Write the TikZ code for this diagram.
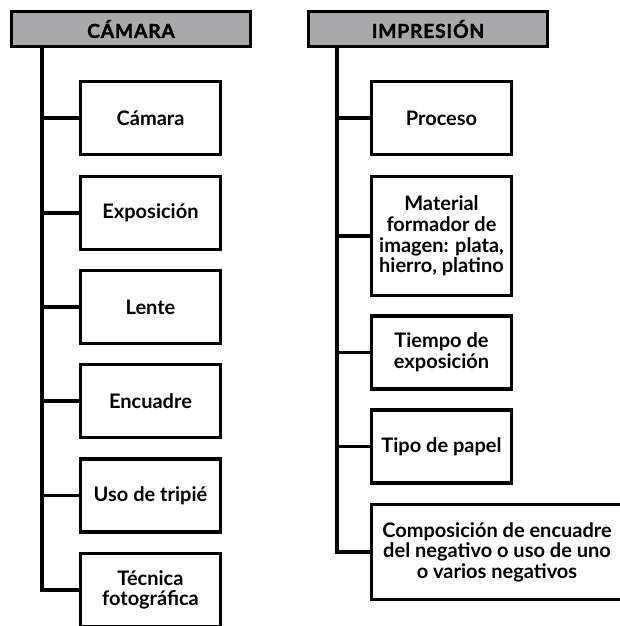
\documentclass[tikz,border=0pt]{standalone}
\usepackage{fontspec}
\setmainfont{Lato}
\newfontfamily\headfont[LetterSpace=4, BoldFeatures={FakeBold=1.6}]{Lato}
\usetikzlibrary{positioning}
\definecolor{headgray}{HTML}{A9A9AB}

\begin{document}
\begin{tikzpicture}[x=0.75pt, y=-0.75pt, line width=2.3pt,
    headbox/.style={draw, fill=headgray, minimum width=179.25pt, minimum height=26.25pt,
                    inner sep=0pt, font=\headfont\bfseries\fontsize{14.5}{16}\selectfont},
    itembox/.style={draw, fill=white, minimum width=105pt, minimum height=54.75pt,
                    inner sep=2pt, align=center, font=\bfseries\fontsize{15}{15.4}\selectfont}]
  \useasboundingbox (0,0) rectangle (620,626);
  \clip (0,0) rectangle (620,626);
  % headers
  \node[headbox] (cam) at (131,29) {CÁMARA};
  \node[headbox] (imp) at (428,29) {IMPRESIÓN};
  % left column
  \node[itembox] (c1) at (150.5,118) {Cámara};
  \node[itembox] (c2) at (150.5,213) {Exposición};
  \node[itembox] (c3) at (150.5,307) {Lente};
  \node[itembox] (c4) at (150.5,401) {Encuadre};
  \node[itembox] (c5) at (150.5,495.5) {Uso de tripié};
  \node[itembox] (c6) at (150.5,590) {Técnica\\fotográfica};
  % right column
  \node[itembox] (i1) at (441.5,118) {Proceso};
  \node[itembox, minimum height=89.25pt] (i2) at (441.5,236)
       {Material\\formador de\\imagen: plata,\\hierro, platino};
  \node[itembox] (i3) at (441.5,352.5) {Tiempo de\\exposición};
  \node[itembox] (i4) at (441.5,446.5) {Tipo de papel};
  \node[itembox, minimum width=188.25pt, minimum height=71.25pt] (i5) at (497,552)
       {Composición de encuadre\\del negativo o uso de uno\\o varios negativos};
  % trunks and branches
  \coordinate (camtrunk) at (42,47);
  \coordinate (imptrunk) at (337,47);
  \draw (camtrunk) |- (c6.west);
  \foreach \n in {c1,c2,c3,c4,c5} \draw (\n.west) -- (\n.west -| camtrunk);
  \draw (imptrunk) |- (i5.west);
  \foreach \n in {i1,i2,i3,i4} \draw (\n.west) -- (\n.west -| imptrunk);
\end{tikzpicture}
\end{document}
